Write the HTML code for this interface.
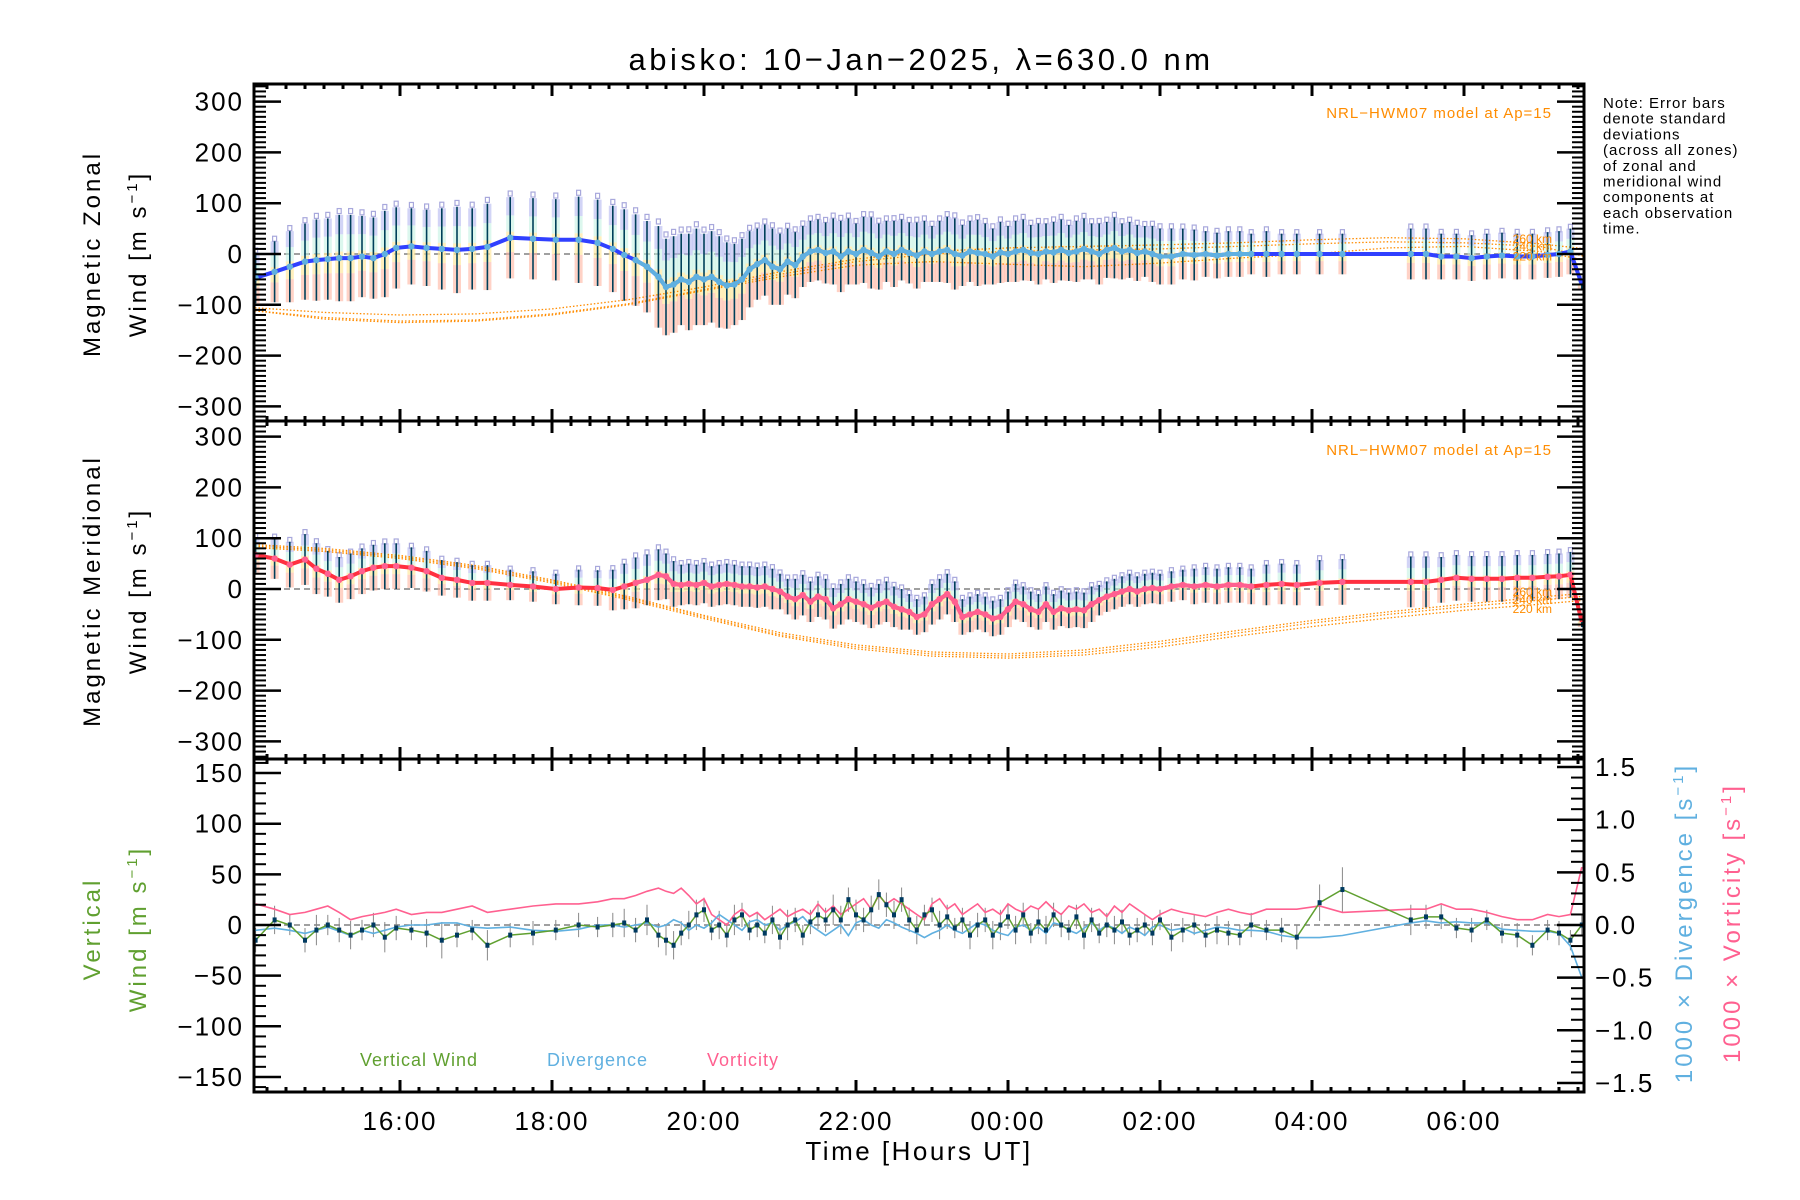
<!DOCTYPE html>
<html><head><meta charset="utf-8"><style>
html,body{margin:0;padding:0;background:#fff;}
svg{display:block;font-family:"Liberation Sans","DejaVu Sans",sans-serif;}
</style></head><body>
<svg id="chart" width="1800" height="1200" viewBox="0 0 1800 1200" xmlns="http://www.w3.org/2000/svg">
<defs>
<clipPath id="c1"><rect x="254" y="84" width="1330" height="337"/></clipPath>
<clipPath id="c2"><rect x="254" y="421" width="1330" height="338"/></clipPath>
<clipPath id="c3"><rect x="254" y="759" width="1330" height="333"/></clipPath>
</defs>
<text x="921" y="70" font-size="31" letter-spacing="3.5" text-anchor="middle">abisko: 10−Jan−2025, λ=630.0 nm</text>
<g font-size="15" letter-spacing="1" fill="#000">
<text x="1603" y="108">Note: Error bars</text>
<text x="1603" y="123.7">denote standard</text>
<text x="1603" y="139.4">deviations</text>
<text x="1603" y="155.1">(across all zones)</text>
<text x="1603" y="170.8">of zonal and</text>
<text x="1603" y="186.5">meridional wind</text>
<text x="1603" y="202.2">components at</text>
<text x="1603" y="217.9">each observation</text>
<text x="1603" y="233.6">time.</text>
</g>
<g id="data"></g>
<g id="axes"></g>
<text font-size="24" letter-spacing="3" text-anchor="middle" transform="translate(100,254) rotate(-90)">Magnetic Zonal</text>
<text font-size="24" letter-spacing="3" text-anchor="middle" transform="translate(146,254) rotate(-90)">Wind [m s<tspan dy="-9" font-size="15">−1</tspan><tspan dy="9">]</tspan></text>
<text font-size="24" letter-spacing="3" text-anchor="middle" transform="translate(100,591) rotate(-90)">Magnetic Meridional</text>
<text font-size="24" letter-spacing="3" text-anchor="middle" transform="translate(146,591) rotate(-90)">Wind [m s<tspan dy="-9" font-size="15">−1</tspan><tspan dy="9">]</tspan></text>
<text font-size="24" letter-spacing="3" fill="#60a030" text-anchor="middle" transform="translate(100,929) rotate(-90)">Vertical</text>
<text font-size="24" letter-spacing="3" fill="#60a030" text-anchor="middle" transform="translate(146,929) rotate(-90)">Wind [m s<tspan dy="-9" font-size="15">−1</tspan><tspan dy="9">]</tspan></text>
<text font-size="24" letter-spacing="3" fill="#60b0e0" text-anchor="middle" transform="translate(1692,923) rotate(-90)">1000 × Divergence [s<tspan dy="-9" font-size="15">−1</tspan><tspan dy="9">]</tspan></text>
<text font-size="24" letter-spacing="3" fill="#ff6090" text-anchor="middle" transform="translate(1740,923) rotate(-90)">1000 × Vorticity [s<tspan dy="-9" font-size="15">−1</tspan><tspan dy="9">]</tspan></text>
<text x="919" y="1160" font-size="26" letter-spacing="2.5" text-anchor="middle">Time [Hours UT]</text>
<text x="360" y="1066" font-size="18" letter-spacing="1" fill="#60a030">Vertical Wind</text>
<text x="547" y="1066" font-size="18" letter-spacing="1" fill="#60b0e0">Divergence</text>
<text x="707" y="1066" font-size="18" letter-spacing="1" fill="#ff6090">Vorticity</text>
<text x="1552" y="118" font-size="15" letter-spacing="1" fill="#ff8c00" text-anchor="end">NRL−HWM07 model at Ap=15</text>
<text x="1552" y="455" font-size="15" letter-spacing="1" fill="#ff8c00" text-anchor="end">NRL−HWM07 model at Ap=15</text>
</svg>
<script>
const obsTimes = [
14.10,14.35,14.55,14.75,14.90,15.05,15.20,15.35,15.50,15.65,
15.80,15.95,16.15,16.35,16.55,16.75,16.95,17.15,17.45,17.75,
18.05,18.35,18.60,18.80,18.95,19.10,19.25,19.40,19.50,19.60,
19.70,19.80,19.90,20.00,20.10,20.20,20.30,20.40,20.50,20.60,
20.70,20.80,20.90,21.00,21.10,21.20,21.30,21.40,21.50,21.60,
21.70,21.80,21.90,22.00,22.10,22.20,22.30,22.40,22.50,22.60,
22.70,22.80,22.90,23.00,23.10,23.20,23.30,23.40,23.50,23.60,
23.70,23.80,23.90,24.00,24.10,24.20,24.30,24.40,24.50,24.60,
24.70,24.80,24.90,25.00,25.10,25.20,25.30,25.40,25.50,25.60,
25.70,25.80,25.90,26.00,26.15,26.30,26.45,26.60,26.75,26.90,
27.05,27.20,27.40,27.60,27.80,28.10,28.40,29.30,29.50,29.70,
29.90,30.10,30.30,30.50,30.70,30.90,31.10,31.25,31.40,31.55];
const zonalVals = [
-47,-35,-25,-15,-12,-10,-8,-8,-5,-8,
0,12,15,12,10,8,10,14,32,30,
28,28,22,10,-2,-12,-25,-45,-65,-60,
-50,-55,-45,-50,-45,-55,-62,-60,-50,-30,
-20,-12,-25,-30,-15,-22,-5,5,8,2,
5,-5,5,0,8,2,-5,5,0,8,
2,-3,5,0,5,8,0,-3,5,2,
0,-5,3,0,5,8,2,0,5,3,
8,2,5,10,5,0,8,12,5,8,
2,5,0,-5,-5,0,-2,0,-3,0,
0,0,0,0,0,0,0,0,0,-5,
-5,-8,-5,-3,-5,-5,-2,0,5,-60];
const zonalErr = [
50,60,70,75,80,80,85,85,80,80,
85,80,75,75,80,85,80,85,80,80,
80,85,85,85,90,90,90,100,95,95,
90,95,95,90,90,90,85,80,80,75,
70,70,75,70,65,65,60,60,60,60,
65,70,65,60,65,70,65,60,65,60,
60,65,60,55,60,65,70,60,60,65,
60,55,60,55,60,60,55,60,55,60,
60,55,60,60,55,60,55,60,55,55,
55,50,55,55,55,50,50,45,45,45,
45,40,45,40,40,40,40,50,50,45,
45,45,45,45,45,45,45,45,45,10];
const merVals = [
67,60,48,58,40,30,18,25,35,42,
45,45,42,35,22,18,12,12,8,5,
0,3,2,-2,5,12,18,28,25,10,
8,10,8,12,5,8,10,8,5,5,
3,5,0,-5,-15,-20,-12,-25,-15,-20,
-38,-30,-20,-25,-30,-37,-30,-25,-35,-40,
-45,-55,-50,-30,-20,-10,-25,-55,-50,-45,
-50,-58,-55,-40,-25,-30,-40,-45,-30,-45,
-38,-42,-40,-42,-30,-22,-15,-10,-5,0,
-5,0,2,0,5,8,5,8,5,8,
8,5,8,10,8,12,14,14,14,18,
22,20,20,20,22,22,24,25,28,-65];
const merErr = [
35,40,45,50,50,45,45,45,45,45,
45,45,40,40,35,35,35,35,30,30,
30,35,35,40,45,50,50,50,45,45,
40,40,40,40,40,40,40,40,40,40,
40,40,40,35,35,40,40,40,40,40,
40,40,40,40,40,40,40,40,40,40,
35,35,35,40,40,40,40,35,35,35,
35,35,35,35,35,35,35,35,35,35,
35,35,35,35,35,30,30,30,30,30,
30,30,30,30,30,30,35,35,35,35,
35,35,40,40,40,45,45,50,50,45,
45,45,45,45,45,45,45,45,45,10];
const vertVals = [
-15,5,0,-15,-5,0,-5,-10,-5,0,
-12,-3,-5,-8,-15,-10,-5,-20,-10,-8,
-5,0,-2,0,2,-5,5,-10,-15,-20,
-8,0,10,15,-5,0,-10,5,10,-5,
0,-8,5,-12,0,5,-10,3,10,5,
15,5,25,10,5,15,30,20,10,25,
5,-5,10,15,0,8,-3,5,-10,0,
5,-10,0,8,-5,10,-8,3,-5,10,
0,-5,8,-10,5,-8,0,-5,3,-10,
-5,0,-8,5,-12,-5,0,-10,-5,-8,
-10,0,-5,-5,-12,22,35,5,8,8,
-3,-5,5,-8,-10,-20,-5,-8,-15,0];
const vertErr = [
12,14,10,12,15,10,12,14,10,12,
15,12,10,14,18,12,10,15,12,12,
10,12,10,12,14,12,15,12,15,14,
12,14,15,12,10,14,12,15,12,10,
12,10,14,12,15,12,10,12,14,12,
15,14,12,15,12,14,15,12,14,12,
12,14,10,12,14,12,10,12,14,12,
12,14,15,12,14,12,10,12,14,12,
12,10,12,14,12,10,12,14,12,10,
12,10,12,10,14,12,10,12,14,12,
10,12,10,12,12,18,22,15,12,12,
10,12,10,10,12,10,10,12,10,10];
const divVals = [
-0.05,-0.03,-0.05,-0.08,-0.05,-0.02,-0.06,-0.1,-0.05,-0.08,
-0.05,-0.02,0.0,0.0,0.02,0.02,-0.02,-0.03,-0.02,-0.05,
-0.06,-0.04,0.0,0.0,-0.02,0.0,0.02,-0.02,0.0,0.05,
0.02,-0.05,0.0,-0.03,0.02,0.1,0.05,0.0,-0.05,0.03,
0.05,0.0,0.02,-0.05,0.0,0.03,0.08,0.0,-0.05,-0.1,
-0.05,0.0,-0.1,0.02,0.05,0.0,-0.03,0.05,0.02,-0.02,
-0.05,-0.08,-0.12,-0.08,-0.05,0.0,-0.05,-0.08,-0.03,0.02,
0.0,-0.05,-0.08,-0.1,-0.02,0.0,-0.05,-0.02,-0.08,0.02,
0.0,-0.05,-0.08,-0.03,0.02,-0.05,0.0,-0.03,-0.08,-0.02,
-0.05,-0.1,-0.02,0.0,-0.05,-0.03,-0.08,-0.05,-0.02,-0.03,
-0.05,-0.05,-0.06,-0.1,-0.12,-0.12,-0.1,0.02,0.04,0.02,
0.03,0.02,0.02,-0.04,-0.05,-0.06,-0.06,-0.08,-0.2,-0.5];
const vortVals = [
0.2,0.15,0.1,0.12,0.15,0.18,0.12,0.05,0.08,0.1,
0.12,0.15,0.1,0.12,0.12,0.15,0.18,0.12,0.15,0.18,
0.2,0.2,0.22,0.25,0.25,0.28,0.32,0.35,0.32,0.3,
0.35,0.28,0.2,0.25,0.1,0.05,0.0,0.1,0.15,0.08,
0.12,0.05,0.1,0.15,0.08,0.12,0.15,0.1,0.2,0.12,
0.18,0.1,0.15,0.2,0.25,0.15,0.28,0.2,0.25,0.2,
0.15,0.1,0.05,0.2,0.25,0.15,0.2,0.1,0.15,0.2,
0.12,0.15,0.1,0.2,0.15,0.12,0.18,0.15,0.22,0.15,
0.1,0.18,0.15,0.2,0.12,0.15,0.08,0.18,0.12,0.2,
0.15,0.1,0.05,0.1,0.15,0.12,0.1,0.08,0.12,0.15,
0.12,0.1,0.15,0.15,0.15,0.18,0.12,0.15,0.15,0.2,
0.15,0.15,0.12,0.08,0.05,0.05,0.1,0.08,0.1,0.55];
const modelTimes = [14,15,16,17,18,19,20,21,22,23,24,25,26,27,28,29,30,31,31.6];
const zonalModel260 = [-105,-115,-120,-118,-108,-90,-65,-35,-10,5,12,15,18,22,28,32,30,20,10];
const zonalModel240 = [-110,-125,-132,-130,-118,-98,-70,-40,-15,0,5,8,10,15,20,24,22,15,-5];
const zonalModel220 = [-110,-128,-135,-132,-120,-100,-72,-45,-22,-15,-20,-25,-18,-8,0,12,15,5,-12];
const merModel260 = [88,80,66,46,18,-15,-52,-86,-110,-124,-128,-120,-103,-82,-62,-45,-30,-16,-8];
const merModel240 = [85,77,63,43,15,-18,-55,-90,-114,-128,-132,-125,-108,-87,-67,-50,-35,-22,-14];
const merModel220 = [82,74,60,40,12,-21,-58,-93,-118,-132,-136,-130,-114,-93,-74,-57,-42,-30,-22];
const xTickLabels = ["16:00","18:00","20:00","22:00","00:00","02:00","04:00","06:00"];
const xTickHours = [16,18,20,22,24,26,28,30];
const windTicks = [-300,-200,-100,0,100,200,300];
const vertTicks = [-150,-100,-50,0,50,100,150];
const rightTicks = [-1.5,-1.0,-0.5,0.0,0.5,1.0,1.5];

const NS = "http://www.w3.org/2000/svg";
const L = 254, R = 1584;
const X = h => 400 + (h - 16) * 76;
const Y1 = v => 254 - v * 0.508;
const Y2 = v => 589 - v * 0.508;
const Y3 = v => 925 - v * 1.013;
const Y3R = v => 925 - v * 105.3;
function el(tag, attrs, parent) {
  const e = document.createElementNS(NS, tag);
  for (const k in attrs) e.setAttribute(k, attrs[k]);
  parent.appendChild(e);
  return e;
}
const dataG = document.getElementById('data');
const axesG = document.getElementById('axes');

function poly(ts, vs, Yf, parent, attrs) {
  const pts = ts.map((t, i) => X(t).toFixed(1) + ',' + Yf(vs[i]).toFixed(1)).join(' ');
  return el('polyline', Object.assign({points: pts, fill: 'none'}, attrs), parent);
}

function windPanel(clip, Yf, vals, errs, m260, m240, m220, lineCol, lightCol, name) {
  const g = el('g', {'clip-path': 'url(#' + clip + ')'}, dataG);
  
  
  el('line', {x1: L, x2: R, y1: Yf(0), y2: Yf(0), stroke: '#808080', 'stroke-width': 1.5, 'stroke-dasharray': '6,4'}, g);
  obsTimes.forEach((t, i) => {
    const x = X(t), v = vals[i], e = errs[i];
    const b0 = el('rect', {x: x - 4, y: Yf(v + e * 1.0), width: 8, height: Yf(v + e * 0.55) - Yf(v + e * 1.0), fill: '#b4b8f0', opacity: 0.6}, g);
    
    
    const b1 = el('rect', {x: x - 4, y: Yf(v + e * 0.55), width: 8, height: Yf(v + e * 0.15) - Yf(v + e * 0.55), fill: '#c0f0e0', opacity: 0.55}, g);
    
    
    const b2 = el('rect', {x: x - 4, y: Yf(v + e * 0.15), width: 8, height: Yf(v - e * 0.35) - Yf(v + e * 0.15), fill: '#ffe8a0', opacity: 0.7}, g);
    
    
    const b3 = el('rect', {x: x - 4, y: Yf(v - e * 0.35), width: 8, height: Yf(v - e * 1.0) - Yf(v - e * 0.35), fill: '#ffb4a0', opacity: 0.6}, g);
    
    
    const sq = el('rect', {x: x - 2, y: Yf(v + e * 1.1) - 2, width: 4, height: 5, fill: 'none', stroke: '#a8a8dc', 'stroke-width': 1.2}, g);
    
    
  });
  [m260, m240, m220].forEach(m => {
    const p = poly(modelTimes, m, Yf, g, {stroke: '#ff8c00', 'stroke-width': 1.3, 'stroke-dasharray': '1.5,2'});
    
    
  });
  obsTimes.forEach((t, i) => {
    const x = X(t);
    const eb = el('line', {x1: x, x2: x, y1: Yf(vals[i] + errs[i]), y2: Yf(vals[i] - errs[i]), stroke: '#00405a', 'stroke-width': 1.6}, g);
    
    
  });
  const ml = poly(obsTimes, vals, Yf, g, {stroke: lineCol, 'stroke-width': 4});
  
  
  const dt = [], dv = [];
  obsTimes.forEach((t, i) => { if (t >= 19.0 && t <= 27.3) { dt.push(t); dv.push(vals[i]); } });
  const ll = poly(dt, dv, Yf, g, {stroke: lightCol, 'stroke-width': 4});
  
  
  obsTimes.forEach((t, i) => {
    if (i === obsTimes.length - 1) return;
    const c = el('circle', {cx: X(t), cy: Yf(vals[i]), r: 3.2, fill: lightCol}, g);
    
    
  });
  const lab = [['260 km', m260], ['240 km', m240], ['220 km', m220]];
  lab.forEach((a, k) => {
    const tx = el('text', {x: 1552, y: Yf(a[1][17]) + 4 + (k - 1) * 5, 'font-size': 12, fill: '#ff8c00', 'text-anchor': 'end'}, g);
    tx.textContent = a[0];
    
    
  });
}
windPanel('c1', Y1, zonalVals, zonalErr, zonalModel260, zonalModel240, zonalModel220, '#3040ff', '#60b0e0', 'zonal');
windPanel('c2', Y2, merVals, merErr, merModel260, merModel240, merModel220, '#ff3040', '#ff6090', 'meridional');

(function(){
  const g = el('g', {'clip-path': 'url(#c3)'}, dataG);
  
  
  el('line', {x1: L, x2: R, y1: Y3(0), y2: Y3(0), stroke: '#808080', 'stroke-width': 1.5, 'stroke-dasharray': '6,4'}, g);
  obsTimes.forEach((t, i) => {
    const eb = el('line', {x1: X(t), x2: X(t), y1: Y3(vertVals[i] + vertErr[i]), y2: Y3(vertVals[i] - vertErr[i]), stroke: '#888', 'stroke-width': 1}, g);
    
    
  });
  const vo = poly(obsTimes, vortVals, Y3R, g, {stroke: '#ff6090', 'stroke-width': 1.6});
  
  
  const dv = poly(obsTimes, divVals, Y3R, g, {stroke: '#60b0e0', 'stroke-width': 1.6});
  
  
  const vw = poly(obsTimes, vertVals, Y3, g, {stroke: '#60a030', 'stroke-width': 1.5});
  
  
  obsTimes.forEach((t, i) => {
    const m = el('rect', {x: X(t) - 2, y: Y3(vertVals[i]) - 2.5, width: 4, height: 5, fill: '#003a60'}, g);
    
    
  });
})();

const panels = [
  {top: 84, bot: 421, Yf: Y1, min: -330, max: 330, minor: 10, major: 100, ticks: windTicks, name: 'zonal'},
  {top: 421, bot: 759, Yf: Y2, min: -330, max: 330, minor: 10, major: 100, ticks: windTicks, name: 'meridional'},
  {top: 759, bot: 1092, Yf: Y3, min: -160, max: 160, minor: 10, major: 50, ticks: vertTicks, name: 'vertical'}
];
panels.forEach((p, pi) => {
  const fr = el('rect', {x: L, y: p.top, width: R - L, height: p.bot - p.top, fill: 'none', stroke: '#000', 'stroke-width': 3}, axesG);
  
  
  for (let v = p.min; v <= p.max; v += p.minor) {
    const y = p.Yf(v);
    if (y < p.top + 1 || y > p.bot - 1) continue;
    const isMaj = v % p.major === 0;
    const len = isMaj ? 27 : 12;
    el('line', {x1: L, x2: L + len, y1: y, y2: y, stroke: '#000', 'stroke-width': isMaj ? 2.5 : 2}, axesG);
    if (pi < 2) el('line', {x1: R - len, x2: R, y1: y, y2: y, stroke: '#000', 'stroke-width': isMaj ? 2.5 : 2}, axesG);
  }
  p.ticks.forEach(v => {
    const y = p.Yf(v);
    if (y < p.top - 4 || y > p.bot + 4) return;
    const t = el('text', {x: 244, y: y + 9, 'font-size': 26, 'letter-spacing': 2, 'text-anchor': 'end'}, axesG);
    t.textContent = v < 0 ? '−' + Math.abs(v) : String(v);
    
    
  });
  for (let h = 14; h <= 31.6; h += 0.25) {
    const x = X(h);
    if (x < L + 2 || x > R - 2) continue;
    const isMaj = Math.abs(h % 2) < 1e-6;
    const len = isMaj ? 12 : 5;
    el('line', {x1: x, x2: x, y1: p.top, y2: p.top + len, stroke: '#000', 'stroke-width': 3}, axesG);
    el('line', {x1: x, x2: x, y1: p.bot - len, y2: p.bot, stroke: '#000', 'stroke-width': 3}, axesG);
  }
});
for (let k = -16; k <= 16; k++) {
  const v = k / 10, y = Y3R(v);
  if (y < 760 || y > 1091) continue;
  const isMaj = k % 5 === 0;
  const len = isMaj ? 27 : 13;
  el('line', {x1: R - len, x2: R, y1: y, y2: y, stroke: '#000', 'stroke-width': isMaj ? 2.5 : 2}, axesG);
}
rightTicks.forEach(v => {
  const t = el('text', {x: 1595, y: Y3R(v) + 9, 'font-size': 26, 'letter-spacing': 2}, axesG);
  t.textContent = (v < 0 ? '−' : '') + Math.abs(v).toFixed(1);
  
  
});
xTickHours.forEach((h, i) => {
  const t = el('text', {x: X(h), y: 1130, 'font-size': 26, 'letter-spacing': 2, 'text-anchor': 'middle'}, axesG);
  t.textContent = xTickLabels[i];
  
  
});
</script>
</body></html>
